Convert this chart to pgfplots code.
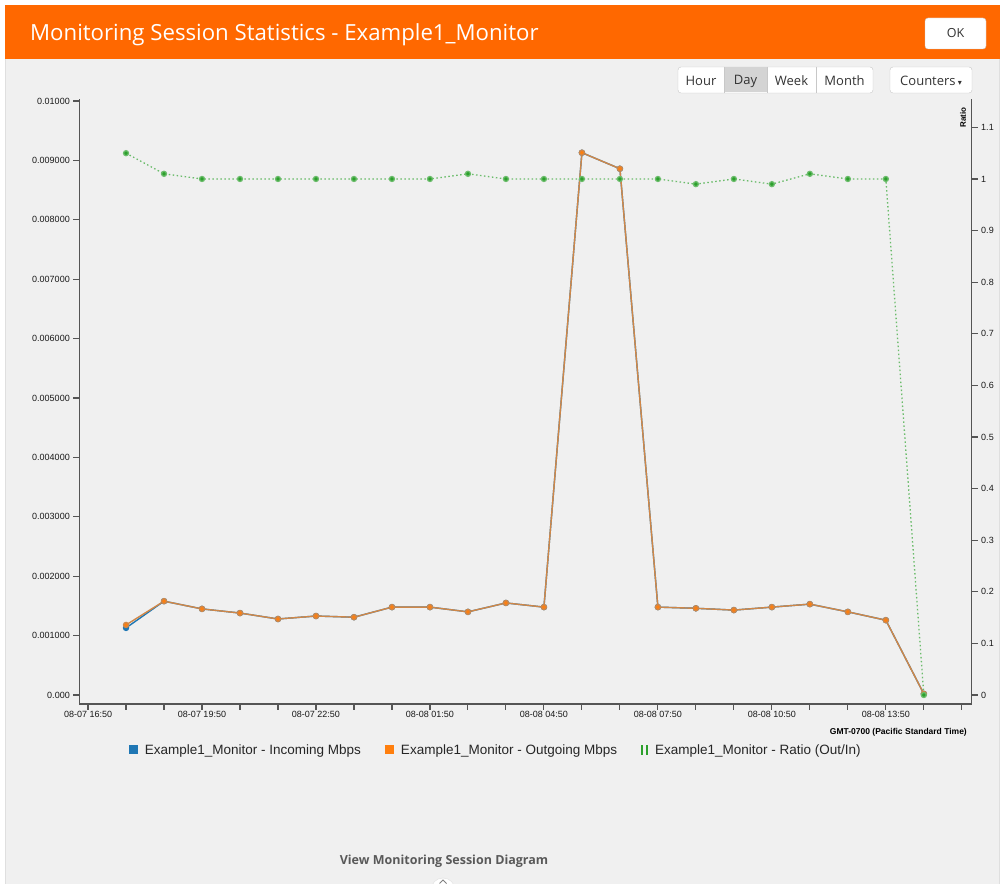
\documentclass[border=0pt]{standalone}
\usepackage{pgfplots}
\pgfplotsset{compat=1.18}
\usepackage{pgfplotstable}
\usepackage{fontspec}
\setmainfont{Liberation Sans}
\newfontfamily\osans{Open Sans}
\newfontfamily\dejavu{DejaVu Sans}
\definecolor{hdr}{RGB}{255,104,0}
\definecolor{panel}{RGB}{240,240,240}
\definecolor{cblue}{RGB}{31,119,180}
\definecolor{corange}{RGB}{255,127,14}
\definecolor{cline}{RGB}{208,135,72}
\definecolor{cgreen}{RGB}{44,160,44}
\definecolor{axc}{RGB}{85,85,85}
\definecolor{btnb}{RGB}{200,200,200}

\pgfplotstableread{
x in out ratio
1  0.00113 0.00118 1.05
2  0.00158 0.00158 1.01
3  0.00145 0.00145 1.00
4  0.00138 0.00138 1.00
5  0.00128 0.00128 1.00
6  0.00133 0.00133 1.00
7  0.00131 0.00131 1.00
8  0.00148 0.00148 1.00
9  0.00148 0.00148 1.00
10 0.00140 0.00140 1.01
11 0.00155 0.00155 1.00
12 0.00148 0.00148 1.00
13 0.00913 0.00913 1.00
14 0.00886 0.00886 1.00
15 0.00148 0.00148 1.00
16 0.00146 0.00146 0.99
17 0.00143 0.00143 1.00
18 0.00148 0.00148 0.99
19 0.00153 0.00153 1.01
20 0.00140 0.00140 1.00
21 0.00126 0.00126 1.00
22 0.00002 0.00002 0.00
}\data

\begin{document}
\begin{tikzpicture}[x=1pt,y=1pt]
\fill[white] (0,0) rectangle (1005,884);
\useasboundingbox (0,0) rectangle (1005,884);
% panel
\fill[panel] (5,0) rectangle (1000,826);
\draw[gray!25, line width=1pt] (5.5,0) -- (5.5,826);
\draw[gray!25, line width=1pt] (999.5,0) -- (999.5,826);
% header
\fill[hdr] (5,825) rectangle (1000,879);
\node[anchor=west, text=white, inner sep=0pt, font=\osans\fontsize{22.2}{26}\selectfont] at (30,849) {Monitoring Session Statistics - Example1\_Monitor};
\draw[fill=white, draw=btnb, rounded corners=3pt] (925,866) rectangle (986,835);
\node[font=\osans\fontsize{12.5}{14}\selectfont, text=black!80] at (955.5,850.5) {OK};
% button group
\draw[fill=white, draw=btnb, rounded corners=3pt] (678,817) rectangle (873,791);
\fill[black!17] (724,816.5) rectangle (767,791.5);
\draw[btnb] (724,817) -- (724,791) (767,817) -- (767,791) (816,817) -- (816,791);
\begin{scope}[font=\osans\fontsize{13}{14}\selectfont, text=black!80]
\node at (701,803) {Hour};
\node at (745.5,803) {Day};
\node at (791.5,803) {Week};
\node at (844.5,803) {Month};
\end{scope}
\draw[fill=white, draw=btnb, rounded corners=3pt] (890,817) rectangle (972,791);
\node[font=\osans\fontsize{13}{14}\selectfont, text=black!80] at (931,803) {Counters\,{\dejavu\fontsize{8}{9}\selectfont▾}};

\begin{axis}[
  at={(79.3pt,180pt)}, anchor=south west, scale only axis,
  width=892.4pt, height=605pt,
  xmin=-0.23, xmax=23.26, ymin=-0.000151, ymax=0.010034,
  axis x line*=bottom, axis y line*=left,
  axis line style={axc, line width=1.4pt, -},
  tick align=outside, major tick length=6pt,
  tick style={axc, line width=1.1pt},
  xtick={0,...,23},
  xticklabels={08-07 16:50,,,08-07 19:50,,,08-07 22:50,,,08-08 01:50,,,08-08 04:50,,,08-08 07:50,,,08-08 10:50,,,08-08 13:50,,},
  ytick={0,0.001,0.002,0.003,0.004,0.005,0.006,0.007,0.008,0.009,0.01},
  yticklabels={0.000,0.001000,0.002000,0.003000,0.004000,0.005000,0.006000,0.007000,0.008000,0.009000,0.01000},
  scaled y ticks=false,
  /pgf/number format/assume math mode=true,
  ticklabel style={font=\fontsize{9}{10}\selectfont, text=black!90},
  xticklabel style={inner sep=1pt},
  clip=false,
  legend columns=3,
  legend style={at={(rel axis cs:0.052,-0.076)}, anchor=west, draw=none, fill=none,
    font=\fontsize{13.5}{15}\selectfont, text=black!85,
    /tikz/every even column/.append style={column sep=22pt}},
]
\addplot[cblue, line width=1.4pt, mark=*, mark size=2.5pt, mark options={fill=cblue, draw=none},
  legend image code/.code={\fill[cblue, draw=none] (0pt,-4.5pt) rectangle (9pt,4.5pt); \path[draw=none, fill=none] (0pt,0pt) rectangle (14pt,0.1pt);}] table[x=x,y=in]{\data};
\addlegendentry{Example1\_Monitor - Incoming Mbps}
\addplot[cline, line width=1.4pt, mark=*, mark size=2.5pt, mark options={fill=corange, draw=none},
  legend image code/.code={\fill[corange, draw=none] (0pt,-4.5pt) rectangle (9pt,4.5pt); \path[draw=none, fill=none] (0pt,0pt) rectangle (14pt,0.1pt);}] table[x=x,y=out]{\data};
\addlegendentry{Example1\_Monitor - Outgoing Mbps}
\addlegendimage{legend image code/.code={\fill[cgreen, draw=none] (0pt,-5pt) rectangle (2pt,5pt); \fill[cgreen, draw=none] (5pt,-5pt) rectangle (7pt,5pt); \path[draw=none, fill=none] (0pt,0pt) rectangle (12pt,0.1pt);}}
\addlegendentry{Example1\_Monitor - Ratio (Out/In)}
\end{axis}

\begin{axis}[
  at={(79.3pt,180pt)}, anchor=south west, scale only axis,
  width=892.4pt, height=605pt,
  xmin=-0.23, xmax=23.26, ymin=-0.0174, ymax=1.155,
  axis x line=none, axis y line*=right,
  axis line style={axc, line width=1.4pt, -},
  tick align=outside, major tick length=6pt,
  tick style={axc, line width=1.1pt},
  ytick={0,0.1,0.2,0.3,0.4,0.5,0.6,0.7,0.8,0.9,1,1.1},
  yticklabels={0,0.1,0.2,0.3,0.4,0.5,0.6,0.7,0.8,0.9,1,1.1},
  /pgf/number format/assume math mode=true,
  ticklabel style={font=\fontsize{9}{10}\selectfont, text=black!90},
  clip=false,
]
\addplot[cgreen!70, line width=1.3pt, dash pattern=on 1.5pt off 2.5pt, mark=*, mark size=2.5pt,
  mark options={fill=cgreen, draw=none, solid}] table[x=x,y=ratio]{\data};
\end{axis}

\node[rotate=90, anchor=east, font=\bfseries\fontsize{8}{9}\selectfont] at (963,780) {Ratio};
\node[anchor=east, font=\bfseries\fontsize{8.5}{10}\selectfont, inner sep=0pt] at (967,152) {GMT-0700 (Pacific Standard Time)};
\node[font=\osans\bfseries\fontsize{12.5}{14}\selectfont, text=black!65] at (444,23) {View Monitoring Session Diagram};
\draw[fill=white, draw=gray!25] (443,-6) circle (12);
\draw[gray, line width=1pt] (439.5,0.5) -- (443,4) -- (446.5,0.5);
\end{tikzpicture}
\end{document}
